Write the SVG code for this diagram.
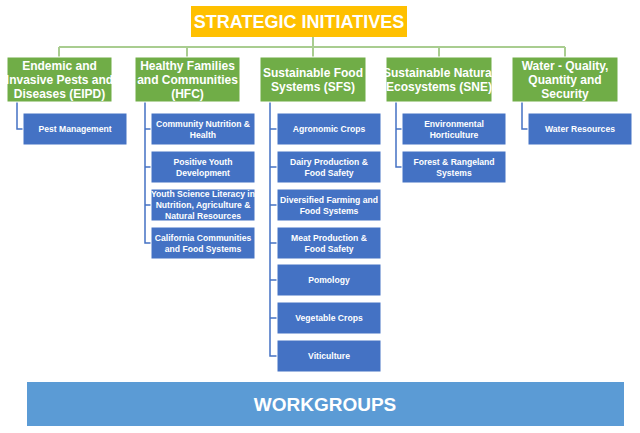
<svg xmlns="http://www.w3.org/2000/svg" width="640" height="433" viewBox="0 0 640 433">
<style>
.h{fill:#70AD47;stroke:#fff;stroke-width:1}
.c{fill:#4472C4;stroke:#fff;stroke-width:1}
.ht{font-family:"Liberation Sans",Arial,sans-serif;font-weight:bold;font-size:12px;fill:#fff;text-anchor:middle}
.ct{font-family:"Liberation Sans",Arial,sans-serif;font-weight:bold;font-size:8.6px;fill:#fff;text-anchor:middle}
.g{fill:none;stroke:#A9CD90;stroke-width:2}
.b{fill:none;stroke:#4472C4;stroke-width:1.5}
</style>
<rect width="640" height="433" fill="#fff"/>
<g id="connectors">
<path class="g" d="M59 47H565M59 47V57M187 47V57M313 47V57M439 47V57M565 47V57M313 37V47"/>
<path class="b" d="M17 102V129H23"/>
<path class="b" d="M145 102V243H151M145 129H151M145 167H151M145 205H151"/>
<path class="b" d="M270 102V356H277M270 129H277M270 167H277M270 205H277M270 243H277M270 280H277M270 318H277"/>
<path class="b" d="M396 102V167H402M396 129H402"/>
<path class="b" d="M522 102V129H528"/>
</g>
<g id="title"><rect x="191" y="6" width="216" height="31" fill="#FFC000"/><text x="299" y="28" font-family="Liberation Sans,Arial,sans-serif" font-weight="bold" font-size="18" fill="#fff" text-anchor="middle">STRATEGIC INITIATIVES</text></g>
<g id="eipd"><rect class="h" x="7" y="57" width="105" height="45"/><text class="ht" x="59.5" y="70">Endemic and<text/></text><text class="ht" x="59.5" y="84">Invasive Pests and</text><text class="ht" x="59.5" y="98">Diseases (EIPD)</text></g>
<g id="hfc"><rect class="h" x="135" y="57" width="105" height="45"/><text class="ht" x="187.5" y="70">Healthy Families</text><text class="ht" x="187.5" y="84">and Communities</text><text class="ht" x="187.5" y="98">(HFC)</text></g>
<g id="sfs"><rect class="h" x="260" y="57" width="106" height="45"/><text class="ht" x="313" y="77">Sustainable Food</text><text class="ht" x="313" y="91">Systems (SFS)</text></g>
<g id="sne"><rect class="h" x="386" y="57" width="106" height="45"/><text class="ht" x="439" y="77">Sustainable Natural</text><text class="ht" x="439" y="91">Ecosystems (SNE)</text></g>
<g id="water"><rect class="h" x="512" y="57" width="106" height="45"/><text class="ht" x="565" y="70">Water - Quality,</text><text class="ht" x="565" y="84">Quantity and</text><text class="ht" x="565" y="98">Security</text></g>
<g id="pest"><rect class="c" x="23" y="113" width="104" height="32"/><text class="ct" x="75" y="132">Pest Management</text></g>
<g id="cnh"><rect class="c" x="151" y="113" width="104" height="32"/><text class="ct" x="203" y="127">Community Nutrition &amp;</text><text class="ct" x="203" y="138">Health</text></g>
<g id="pyd"><rect class="c" x="151" y="151" width="104" height="32"/><text class="ct" x="203" y="165">Positive Youth</text><text class="ct" x="203" y="176">Development</text></g>
<g id="ysl"><rect class="c" x="151" y="189" width="104" height="32"/><text class="ct" x="203" y="197">Youth Science Literacy in</text><text class="ct" x="203" y="208">Nutrition, Agriculture &amp;</text><text class="ct" x="203" y="219">Natural Resources</text></g>
<g id="ccfs"><rect class="c" x="151" y="227" width="104" height="32"/><text class="ct" x="203" y="241">California Communities</text><text class="ct" x="203" y="252">and Food Systems</text></g>
<g id="agro"><rect class="c" x="277" y="113" width="104" height="32"/><text class="ct" x="329" y="132">Agronomic Crops</text></g>
<g id="dairy"><rect class="c" x="277" y="151" width="104" height="32"/><text class="ct" x="329" y="165">Dairy Production &amp;</text><text class="ct" x="329" y="176">Food Safety</text></g>
<g id="div"><rect class="c" x="277" y="189" width="104" height="32"/><text class="ct" x="329" y="203">Diversified Farming and</text><text class="ct" x="329" y="214">Food Systems</text></g>
<g id="meat"><rect class="c" x="277" y="227" width="104" height="32"/><text class="ct" x="329" y="241">Meat Production &amp;</text><text class="ct" x="329" y="252">Food Safety</text></g>
<g id="pom"><rect class="c" x="277" y="264" width="104" height="32"/><text class="ct" x="329" y="283">Pomology</text></g>
<g id="veg"><rect class="c" x="277" y="302" width="104" height="32"/><text class="ct" x="329" y="321">Vegetable Crops</text></g>
<g id="viti"><rect class="c" x="277" y="340" width="104" height="32"/><text class="ct" x="329" y="359">Viticulture</text></g>
<g id="env"><rect class="c" x="402" y="113" width="104" height="32"/><text class="ct" x="454" y="127">Environmental</text><text class="ct" x="454" y="138">Horticulture</text></g>
<g id="forest"><rect class="c" x="402" y="151" width="104" height="32"/><text class="ct" x="454" y="165">Forest &amp; Rangeland</text><text class="ct" x="454" y="176">Systems</text></g>
<g id="wr"><rect class="c" x="528" y="113" width="104" height="32"/><text class="ct" x="580" y="132">Water Resources</text></g>
<g id="workgroups"><rect x="27" y="382" width="597" height="44" fill="#5B9BD5"/><text x="325" y="411" font-family="Liberation Sans,Arial,sans-serif" font-weight="bold" font-size="19" fill="#fff" text-anchor="middle">WORKGROUPS</text></g>
</svg>
